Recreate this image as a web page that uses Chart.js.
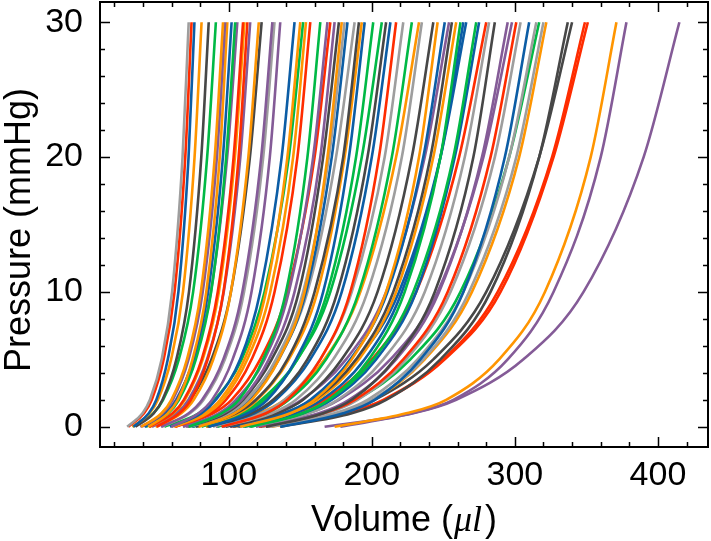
<!DOCTYPE html>
<html>
<head>
<meta charset="utf-8">
<script src="https://cdn.jsdelivr.net/npm/chart.js@4"></script>
<style>
  html, body { margin: 0; padding: 0; background: #fff; }
  #pv { display: block; }
</style>
</head>
<body>
<canvas id="pv" width="711" height="541"></canvas>
<script>
const pressures = [0, 1, 2, 5, 10, 20, 30];

// volume (ul) of every curve at the pressures above
const curveVolumes = [
  [29.0, 39.7, 44.9, 53.1, 60.4, 67.7, 72],
  [29.8, 40.8, 46.2, 54.5, 62.1, 69.6, 74],
  [33.4, 44.1, 49.4, 57.4, 64.8, 71.9, 76],
  [32.6, 44.7, 50.5, 59.7, 68.0, 76.1, 81],
  [34.7, 47.5, 53.7, 63.4, 72.2, 80.8, 86],
  [32.8, 47.3, 54.1, 65.1, 75.1, 84.9, 91],
  [38.7, 53.0, 59.9, 70.8, 80.5, 90.2, 96],
  [39.3, 53.8, 60.8, 71.9, 81.8, 91.7, 97.5],
  [43.6, 57.4, 64.4, 74.7, 84.3, 93.7, 99],
  [41.1, 56.3, 63.6, 75.2, 85.6, 95.9, 102],
  [42.1, 57.7, 65.2, 77.0, 87.7, 98.2, 104.5],
  [38.2, 55.1, 63.1, 75.8, 87.5, 98.9, 106],
  [44.3, 60.7, 68.6, 81.1, 92.3, 103.4, 110],
  [44.7, 61.3, 69.3, 81.8, 93.1, 104.3, 111],
  [49.7, 65.5, 73.5, 85.3, 96.3, 106.9, 113],
  [46.3, 63.5, 71.8, 84.8, 96.5, 108.1, 115],
  [48.8, 66.8, 75.5, 89.2, 101.5, 113.7, 121],
  [44.3, 64.0, 73.2, 87.9, 101.5, 114.8, 123],
  [52.6, 72.0, 81.4, 96.2, 109.5, 122.7, 130.5],
  [53.2, 72.9, 82.4, 97.3, 110.7, 124.1, 132],
  [59.8, 78.9, 88.4, 102.7, 115.9, 128.7, 136],
  [59, 81, 91, 108, 122, 137, 146],
  [60, 83, 94, 111, 126, 141, 150],
  [55, 79, 90, 109, 125, 142, 152],
  [62, 85, 96, 113, 129, 145, 154],
  [63, 87, 98, 116, 132, 148, 157],
  [72, 95, 107, 124, 140, 155, 164],
  [68, 93, 105, 125, 142, 159, 169],
  [62, 89, 102, 122, 141, 160, 171],
  [70, 96, 109, 128, 146, 164, 174],
  [71, 98, 110, 130, 149, 166, 177],
  [79, 104, 116, 135, 153, 169, 179],
  [73, 100, 113, 133, 152, 170, 181],
  [74, 101, 114, 135, 154, 172, 183],
  [68, 98, 112, 134, 155, 175, 188],
  [77, 105, 119, 141, 160, 180, 191],
  [78, 107, 120, 142, 162, 181, 193],
  [86, 113, 127, 147, 166, 184, 195],
  [81, 111, 125, 148, 169, 189, 201],
  [75, 108, 123, 148, 171, 193, 207],
  [85, 116, 131, 155, 176, 197, 210],
  [86, 118, 133, 157, 179, 200, 213],
  [95, 126, 141, 164, 185, 205, 217],
  [89, 123, 139, 164, 186, 209, 222],
  [92, 126, 142, 168, 191, 214, 228],
  [84, 121, 139, 167, 192, 217, 233],
  [95, 130, 147, 173, 197, 221, 235],
  [98, 134, 152, 179, 204, 228, 243],
  [108, 143, 160, 186, 210, 233, 246],
  [101, 139, 157, 185, 211, 236, 251],
  [91, 132, 151, 182, 210, 237, 254],
  [103, 141, 160, 189, 215, 241, 256],
  [104, 143, 162, 191, 217, 243, 259],
  [115, 152, 170, 198, 223, 248, 262],
  [106, 146, 165, 195, 221, 248, 264],
  [96, 138, 158, 190, 219, 248, 266],
  [110, 151, 170, 201, 229, 257, 273],
  [111, 152, 172, 203, 231, 258, 275],
  [101, 146, 167, 200, 231, 261, 280],
  [114, 156, 176, 208, 237, 265, 282],
  [126, 166, 186, 216, 244, 271, 286],
  [119, 163, 184, 217, 247, 277, 295],
  [107, 155, 177, 213, 246, 278, 298],
  [121, 166, 188, 222, 253, 283, 301],
  [123, 168, 190, 224, 255, 286, 304],
  [136, 180, 202, 234, 264, 293, 310],
  [127, 174, 197, 232, 264, 296, 315],
  [114, 165, 189, 227, 262, 296, 317],
  [129, 177, 200, 236, 268, 301, 320],
  [130, 178, 201, 237, 270, 303, 322],
  [136, 186, 210, 248, 283, 317, 337],
  [122, 177, 202, 243, 280, 317, 340],
  [126, 181, 208, 250, 288, 326, 349],
  [126, 183, 209, 251, 290, 327, 351],
  [174, 224, 252, 289, 321, 353, 371],
  [178, 228, 257, 295, 327, 360, 378],
  [167, 229, 259, 306, 348, 390, 415]
];

// colour of each curve, same order as curveVolumes
const curveColors = [
  'gray', 'red', 'blue', 'orange', 'dark', 'green', 'orange', 'purple', 'orange', 'blue',
  'green', 'purple', 'red', 'orange', 'red', 'purple', 'orange', 'dark', 'purple', 'gray',
  'purple', 'blue', 'orange', 'green', 'orange', 'red', 'green', 'purple', 'red', 'purple',
  'dark', 'orange', 'gray', 'blue', 'gray', 'dark', 'orange', 'blue', 'green', 'green',
  'dark', 'blue', 'red', 'gray', 'green', 'orange', 'gray', 'dark', 'orange', 'blue',
  'purple', 'dark', 'orange', 'green', 'blue', 'blue', 'green', 'blue', 'red', 'gray',
  'dark', 'purple', 'purple', 'red', 'gray', 'blue', 'gray', 'green', 'gray', 'orange',
  'dark', 'dark', 'red', 'red', 'orange', 'purple', 'purple'
];

const xTicks = [100, 200, 300, 400];
const yTicks = [0, 10, 20, 30];

const palette = {
  blue: '#0C5DA5', green: '#00B945', orange: '#FF9500', red: '#FF2C00',
  purple: '#845B97', dark: '#474747', gray: '#9E9E9E'
};

const SANS = '"Liberation Sans", Arial, Helvetica, sans-serif';

// box + inward ticks on all four sides, axis titles
const framePlugin = {
  id: 'frame',
  afterDraw(chart) {
    const ctx = chart.ctx;
    const a = chart.chartArea;
    const xs = chart.scales.x, ys = chart.scales.y;
    ctx.save();
    ctx.strokeStyle = '#000';
    ctx.lineWidth = 1.5;
    ctx.beginPath();
    for (let v = 20; v <= 420; v += 20) {
      const px = Math.round(xs.getPixelForValue(v)) + 0.5;
      const len = v % 100 === 0 ? 10 : 5;
      ctx.moveTo(px, a.bottom); ctx.lineTo(px, a.bottom - len);
      ctx.moveTo(px, a.top); ctx.lineTo(px, a.top + len);
    }
    for (let v = 0; v <= 30; v += 2) {
      const py = Math.round(ys.getPixelForValue(v)) + 0.5;
      const len = v % 10 === 0 ? 10 : 5;
      ctx.moveTo(a.left, py); ctx.lineTo(a.left + len, py);
      ctx.moveTo(a.right, py); ctx.lineTo(a.right - len, py);
    }
    ctx.stroke();
    ctx.lineWidth = 2;
    ctx.strokeRect(a.left, a.top, a.right - a.left, a.bottom - a.top);

    // x title, with the unit in math italic
    ctx.fillStyle = '#000';
    ctx.textBaseline = 'alphabetic';
    ctx.textAlign = 'left';
    const f1 = '36px ' + SANS;
    const f2 = 'italic 36px "Liberation Serif", "DejaVu Serif", serif';
    ctx.font = f1; const w1 = ctx.measureText('Volume (').width;
    const w3 = ctx.measureText(')').width;
    ctx.font = f2; const w2 = ctx.measureText('\u03bcl').width + 4;
    let x0 = (a.left + a.right) / 2 - (w1 + w2 + w3) / 2;
    const yb = 531;
    ctx.font = f1; ctx.fillText('Volume (', x0, yb);
    ctx.font = f2; ctx.fillText('\u03bcl', x0 + w1 + 1, yb);
    ctx.font = f1; ctx.fillText(')', x0 + w1 + w2, yb);

    // y title
    ctx.translate(30, 230);
    ctx.rotate(-Math.PI / 2);
    ctx.textAlign = 'center';
    ctx.font = f1;
    ctx.fillText('Pressure (mmHg)', 0, 0);
    ctx.restore();
  }
};

const datasets = curveVolumes.map((vols, i) => ({
  data: vols.map((v, j) => ({ x: v, y: pressures[j] })),
  borderColor: palette[curveColors[i]],
  borderWidth: 2.6,
  pointRadius: 0,
  fill: false,
  cubicInterpolationMode: 'monotone'
}));

new Chart(document.getElementById('pv').getContext('2d'), {
  type: 'line',
  data: { datasets: datasets },
  plugins: [framePlugin],
  options: {
    responsive: false,
    animation: false,
    devicePixelRatio: 1,
    layout: { padding: { top: 2, right: 3, left: 0, bottom: 0 } },
    plugins: { legend: { display: false }, tooltip: { enabled: false } },
    scales: {
      x: {
        type: 'linear',
        min: 10,
        max: 435,
        grid: { display: false, drawTicks: false },
        border: { display: false },
        afterBuildTicks: s => { s.ticks = xTicks.map(v => ({ value: v })); },
        afterFit: s => { s.height = 94; s.paddingLeft = 0; s.paddingRight = 0; },
        ticks: { color: '#000', padding: 8, maxRotation: 0, font: { family: SANS, size: 34 } }
      },
      y: {
        min: -1.5,
        max: 31.5,
        grid: { display: false, drawTicks: false },
        border: { display: false },
        afterBuildTicks: s => { s.ticks = yTicks.map(v => ({ value: v })); },
        afterFit: s => { s.width = 100; s.paddingTop = 0; s.paddingBottom = 0; },
        ticks: { color: '#000', padding: 17, font: { family: SANS, size: 34 } }
      }
    }
  }
});
</script>
</body>
</html>
